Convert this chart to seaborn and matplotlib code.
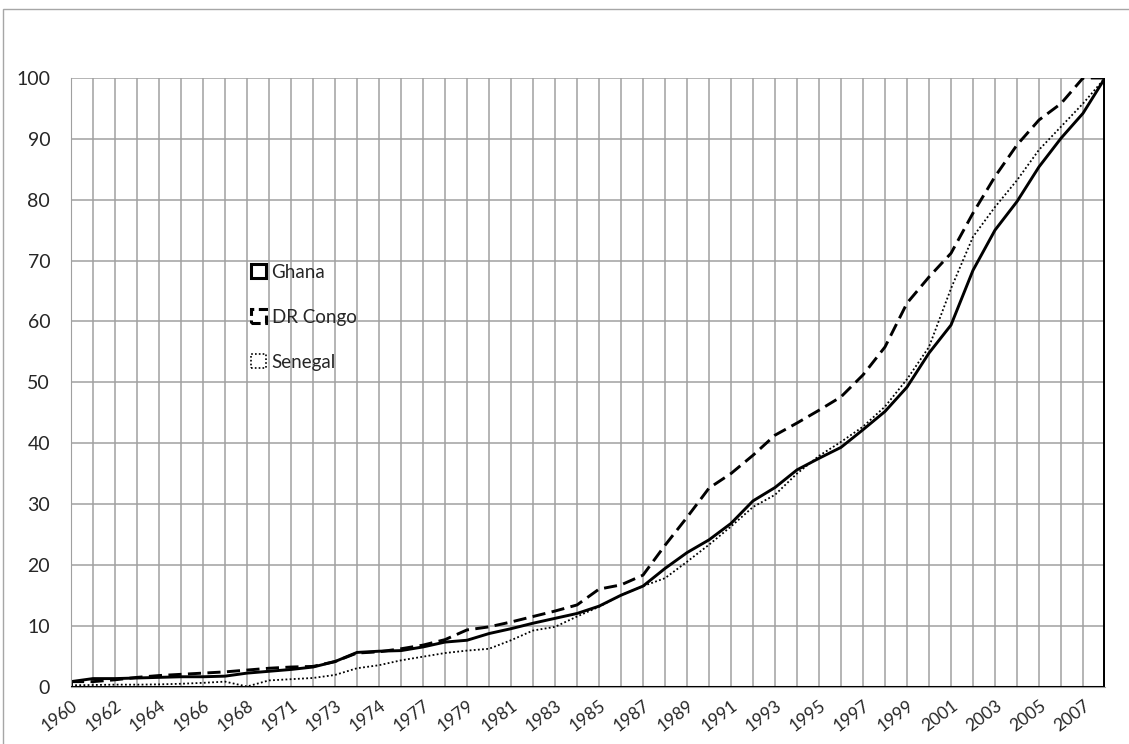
import pandas as pd
import matplotlib
matplotlib.use("Agg")
import matplotlib.pyplot as plt
from matplotlib.patches import Patch, Rectangle
import seaborn as sns

years = ["1960", "1961", "1962", "1963", "1964", "1965", "1966", "1967", "1968",
         "1970", "1971", "1972", "1973", "1973", "1974", "1976", "1977", "1978"] + \
        [str(y) for y in range(1979, 2009)]

ghana = [0.8, 1.3, 1.3, 1.4, 1.5, 1.6, 1.6, 1.7, 2.2, 2.5, 2.8, 3.2, 4.1, 5.6, 5.8, 5.9,
         6.5, 7.3, 7.6, 8.7, 9.5, 10.4, 11.2, 12.0, 13.2, 15.0, 16.5, 19.4, 22.0, 24.1,
         26.8, 30.5, 32.7, 35.6, 37.5, 39.3, 42.2, 45.2, 49.2, 54.8, 59.4, 68.4, 75.0,
         79.7, 85.4, 90.1, 94.2, 100]
congo = [0.8, 0.8, 1.1, 1.5, 1.8, 2.0, 2.2, 2.4, 2.7, 3.0, 3.2, 3.3, 4.1, 5.5, 5.7, 6.2,
         6.8, 7.7, 9.3, 9.8, 10.6, 11.5, 12.4, 13.4, 16.0, 16.7, 18.3, 23.2, 27.8, 32.6,
         35.0, 38.0, 41.3, 43.3, 45.4, 47.6, 51.2, 55.8, 63.0, 67.3, 71.2, 77.8, 83.8,
         89.0, 93.1, 95.8, 100, 100]
senegal = [0.2, 0.25, 0.3, 0.3, 0.35, 0.45, 0.6, 0.8, 0.0, 1.0, 1.2, 1.4, 1.9, 3.0, 3.5,
           4.3, 4.9, 5.5, 5.9, 6.2, 7.6, 9.2, 9.8, 11.5, 13.1, 15.0, 16.5, 17.8, 20.5,
           23.3, 26.3, 29.5, 31.5, 35.0, 37.9, 40.2, 42.7, 46.0, 50.5, 55.8, 65.4, 73.9,
           78.8, 83.2, 88.2, 92.0, 95.8, 100]

sns.set_style("white")
plt.rcParams["font.family"] = ["Lato", "DejaVu Sans"]

df = pd.DataFrame({"pos": range(len(years)), "Ghana": ghana,
                   "DR Congo": congo, "Senegal": senegal})

fig = plt.figure(figsize=(11.29, 7.44), dpi=100)
ax = fig.add_axes([71 / 1129, 1 - 686.5 / 744, 1034 / 1129, 608.5 / 744])

grid = "#a0a0a0"
ax.set_axisbelow(True)
ax.grid(True, color=grid, lw=1.1)

styles = {
    "Ghana": dict(lw=2.1, linestyle="-"),
    "DR Congo": dict(lw=2.1, linestyle=(0, (4.5, 2.2))),
    "Senegal": dict(lw=1.3, linestyle=(0, (1, 1.3))),
}
for name, st in styles.items():
    sns.lineplot(data=df, x="pos", y=name, ax=ax, color="black", legend=False, **st)
    # area outline edges (left / right sides)
    ax.vlines([0, len(years) - 1], 0, [df[name].iloc[0], df[name].iloc[-1]],
              color="black", lw=st["lw"] + 0.6, linestyles="solid")

ax.axhline(0, color="black", lw=2.2, zorder=3)

ax.set_xlim(0, len(years) - 1)
ax.set_ylim(0, 100)
ax.set_yticks(range(0, 101, 10))
ax.set_xticks(range(len(years)))
ax.set_xticklabels([y if i % 2 == 0 else "" for i, y in enumerate(years)],
                   rotation=37, ha="right", rotation_mode="anchor", fontsize=12.5)
ax.tick_params(axis="y", labelsize=14, length=6, color=grid, pad=9)
ax.tick_params(axis="x", length=5, color=grid, pad=3)
ax.set_xlabel("")
ax.set_ylabel("")
for s in ["top", "right"]:
    ax.spines[s].set_visible(False)
for s in ["left", "bottom"]:
    ax.spines[s].set_color(grid)

handles = [
    Patch(facecolor="white", edgecolor="black", lw=2.2, linestyle="-", label="Ghana"),
    Patch(facecolor="white", edgecolor="black", lw=2.2, linestyle=(0, (3, 1.5)), label="DR Congo"),
    Patch(facecolor="white", edgecolor="black", lw=1.2, linestyle=(0, (1, 1.3)), label="Senegal"),
]
ax.legend(handles=handles, loc="upper left", bbox_to_anchor=(0.174, 0.695),
          frameon=False, fontsize=13.5, handlelength=0.8, handleheight=0.8,
          handletextpad=0.3, labelspacing=1.5, borderpad=0, borderaxespad=0)

fig.patches.append(Rectangle((3 / 1129, -0.1), 1.2, 1.1 - 9 / 744, fill=False,
                             edgecolor="#a6a6a6", lw=1, transform=fig.transFigure))

fig.savefig("out.png", dpi=100)
